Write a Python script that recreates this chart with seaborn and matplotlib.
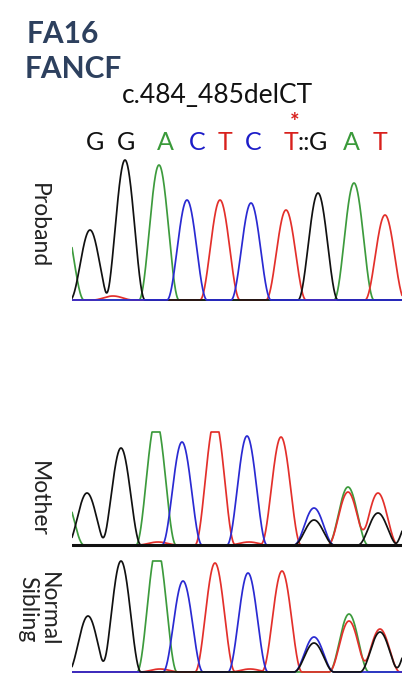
import numpy as np
import pandas as pd
import matplotlib
matplotlib.use("Agg")
import matplotlib.pyplot as plt
import seaborn as sns

# ---------------- data ----------------
title_lines = ["FA16", "FANCF"]
mutation = "c.484_485delCT"
seq_letters = ["G", "G", "A", "C", "T", "C", "T", "::", "G", "A", "T"]
seq_scan = [95, 126, 165, 197, 225, 253, 292, 303.5, 315, 351, 380]
star_scan = 295
sample_labels = ["Proband", "Mother", "Normal\nSibling"]

# peaks: scan position, base channel, signal height
proband_pos = [64, 90, 113, 125, 159, 187, 220, 251, 286, 318, 354, 385]
proband_base = ["A", "G", "T", "G", "A", "C", "T", "C", "T", "G", "A", "T"]
proband_height = [80, 70, 4, 140, 135, 100, 100, 97, 90, 107, 117, 85]

mother_pos = [64, 87, 121, 156, 158, 182, 215, 247, 249, 281, 314, 314, 348, 348, 378, 378, 414]
mother_base = ["A", "G", "G", "A", "T", "C", "T", "C", "T", "T", "C", "G", "A", "T", "T", "G", "G"]
mother_height = [50, 52, 97, 125, 3, 103, 125, 109, 3, 108, 37, 25, 58, 53, 52, 32, 40]

sibling_pos = [88, 121, 157, 160, 183, 215, 248, 250, 282, 314, 314, 349, 349, 380, 380, 414]
sibling_base = ["G", "G", "A", "T", "C", "T", "C", "T", "T", "C", "G", "A", "T", "T", "G", "G"]
sibling_height = [56, 111, 125, 3, 91, 109, 99, 3, 101, 35, 29, 58, 51, 43, 40, 40]

base_colors = {"A": "#3d9b3d", "C": "#2a2ad2", "G": "#111111", "T": "#e3302b"}
letter_colors = {"A": "#3a9a3a", "C": "#1c1cc8", "G": "#111111", "T": "#d8201c", "::": "#111111"}

# ---------------- figure ----------------
sns.set_theme(style="white")
plt.rcParams["font.family"] = ["Lato", "DejaVu Sans"]

W, H = 403, 677
fig = plt.figure(figsize=(W / 100, H / 100), dpi=100)
fig.patch.set_facecolor("white")


def fx(px):
    return px / W


def fy(py):
    return 1 - py / H


def trace_frame(pos, base, height, clip, order, half_width=20.0):
    grid = np.linspace(72, 402, 1400)
    rows = []
    for b in order:
        sig = np.zeros_like(grid)
        for p, bb, h in zip(pos, base, height):
            if bb == b:
                d = np.abs(grid - p)
                pulse = np.where(d < half_width, 0.5 * (1 + np.cos(np.pi * d / half_width)), 0.0)
                sig += h * pulse
        sig = np.minimum(sig, clip)
        rows.append(pd.DataFrame({"scan": grid, "signal": sig, "base": b}))
    return pd.concat(rows, ignore_index=True)


panels = [
    # (pos, base, height, clip, top_px, baseline_px, bottom_px, order, label_y, thick_base)
    (proband_pos, proband_base, proband_height, 150, 152, 300, 305, ["A", "T", "G", "C"], 226, False),
    (mother_pos, mother_base, mother_height, 113, 425, 545, 550, ["A", "T", "C", "G"], 499, True),
    (sibling_pos, sibling_base, sibling_height, 111, 555, 672, 674, ["A", "T", "C", "G"], 609, False),
]

for (pos, base, height, clip, top_px, base_px, bot_px, order, label_y, thick), label in zip(panels, sample_labels):
    ax = fig.add_axes([fx(72), fy(bot_px), fx(402) - fx(72), (bot_px - top_px) / H])
    df = trace_frame(pos, base, height, clip, order)
    for b in order:
        sns.lineplot(data=df[df["base"] == b], x="scan", y="signal", color=base_colors[b],
                     estimator=None, sort=False, legend=False, lw=1.25, ax=ax)
    if thick:
        ax.axhline(0, color="#111111", lw=2.2, zorder=5)
    ax.set_xlim(72, 402)
    ax.set_ylim(-(bot_px - base_px), base_px - top_px)
    ax.axis("off")
    fig.text(fx(38), fy(label_y), label, rotation=-90, ha="center", va="center",
             fontsize=16.5, color="#222222", multialignment="center", linespacing=1.0)

# titles
fig.text(fx(27), fy(43), title_lines[0], fontsize=21.5, fontweight="bold", color="#2d405e",
         ha="left", va="baseline")
fig.text(fx(25), fy(78), title_lines[1], fontsize=21.5, fontweight="bold", color="#2d405e",
         ha="left", va="baseline")
fig.text(fx(122), fy(103), mutation, fontsize=19, color="#111111", ha="left", va="baseline")

for letter, x in zip(seq_letters, seq_scan):
    if letter == "::":
        ha = "center"
    elif x == seq_scan[6]:
        ha = "right"
        x = x + 6
    elif x == seq_scan[8]:
        ha = "left"
        x = x - 6
    else:
        ha = "center"
    fig.text(fx(x), fy(150), letter, fontsize=18, color=letter_colors[letter],
             ha=ha, va="baseline")
fig.text(fx(star_scan), fy(129), "*", fontsize=16, color="#d8201c", ha="center", va="baseline",
         fontweight="bold")

fig.savefig("out.png", dpi=100, facecolor="white")
